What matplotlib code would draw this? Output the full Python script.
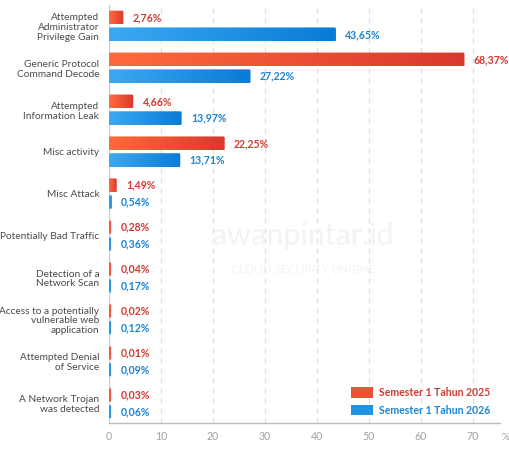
import numpy as np
import matplotlib
matplotlib.use("Agg")
import matplotlib.pyplot as plt
from matplotlib.patches import FancyBboxPatch, Patch
from matplotlib.colors import LinearSegmentedColormap

# data
categories = [
    "Attempted\nAdministrator\nPrivilege Gain",
    "Generic Protocol\nCommand Decode",
    "Attempted\nInformation Leak",
    "Misc activity",
    "Misc Attack",
    "Potentially Bad Traffic",
    "Detection of a\nNetwork Scan",
    "Access to a potentially\nvulnerable web\napplication",
    "Attempted Denial\nof Service",
    "A Network Trojan\nwas detected",
]
sem_2025 = [2.76, 68.37, 4.66, 22.25, 1.49, 0.28, 0.04, 0.02, 0.01, 0.03]
sem_2026 = [43.65, 27.22, 13.97, 13.71, 0.54, 0.36, 0.17, 0.12, 0.09, 0.06]
series_names = ["Semester 1 Tahun 2025", "Semester 1 Tahun 2026"]
xticks = [0, 10, 20, 30, 40, 50, 60, 70]

plt.rcParams['font.family'] = ['Lato', 'DejaVu Sans']

orange_cmap = LinearSegmentedColormap.from_list("o", ["#ff6a3c", "#d9382f"])
blue_cmap = LinearSegmentedColormap.from_list("b", ["#3ba9f2", "#0a7bd6"])
orange_txt = "#d23a30"
blue_txt = "#1a84d6"

fig = plt.figure(figsize=(5.1, 4.55), dpi=100)
ax = fig.add_axes([109 / 510, 32 / 455, 391 / 510, 418 / 455])
ax.set_xlim(0, 75.2)
ax.set_ylim(9.47, -0.5)

grad = np.linspace(0, 1, 256).reshape(1, -1)
min_w = 0.4
h = 0.33


def grad_bar(y, w, cmap):
    w = max(w, min_w)
    patch = FancyBboxPatch((0, y - h / 2), w, h,
                           boxstyle="round,pad=0,rounding_size=0.35",
                           mutation_aspect=0.08, lw=0, fc="none")
    ax.add_patch(patch)
    im = ax.imshow(grad, cmap=cmap, aspect="auto",
                   extent=(0, w, y + h / 2, y - h / 2), zorder=3)
    im.set_clip_path(patch)
    return w


for i in range(len(categories)):
    w = grad_bar(i - 0.2, sem_2025[i], orange_cmap)
    ax.text(w + 1.8, i - 0.2, f"{sem_2025[i]:.2f}%".replace(".", ","),
            va="center", ha="left", fontsize=7.6, color=orange_txt, fontweight="bold")
    w = grad_bar(i + 0.2, sem_2026[i], blue_cmap)
    ax.text(w + 1.8, i + 0.2, f"{sem_2026[i]:.2f}%".replace(".", ","),
            va="center", ha="left", fontsize=7.6, color=blue_txt, fontweight="bold")

ax.set_yticks(range(len(categories)))
ax.set_yticklabels(categories, fontsize=7.3, color="#4a4a4a", linespacing=1.1)
ax.tick_params(axis="y", length=0, pad=7)

ax.set_xticks(xticks)
ax.set_xticklabels([str(t) for t in xticks], fontsize=7.6, color="#a0a0a0")
ax.tick_params(axis="x", length=0, pad=6)

for t in xticks[1:]:
    ax.axvline(t, color="#dddddd", lw=0.9, ls=(0, (4, 4)), zorder=0)
ax.axvline(0, color="#cccccc", lw=1, zorder=1)

for s in ["top", "right", "left"]:
    ax.spines[s].set_visible(False)
ax.spines["bottom"].set_color("#bbbbbb")
ax.spines["bottom"].set_linewidth(1)

ax.text(1.005, -0.035, "%", transform=ax.transAxes, fontsize=7, color="#a0a0a0",
        ha="left", va="center")

# watermark
ax.text(37.3, 5.0, "awanpintar.id", fontsize=22, color="#f3f3f3", ha="center",
        va="center", zorder=0.5)
ax.text(37.3, 5.8, "CLOUD SECURITY ENGINE", fontsize=8.5, color="#f3f3f3",
        ha="center", va="center", zorder=0.5)

handles = [Patch(fc="#ec5234", ec="none"), Patch(fc="#2093e4", ec="none")]
ax.legend(handles, series_names, loc="lower right", bbox_to_anchor=(1.0, -0.005),
          frameon=False, labelcolor=[orange_txt, blue_txt],
          handlelength=2.1, handleheight=1.2, handletextpad=0.6, labelspacing=0.6,
          prop={"weight": "bold", "size": 7.6})

fig.savefig("out.png", dpi=100)
